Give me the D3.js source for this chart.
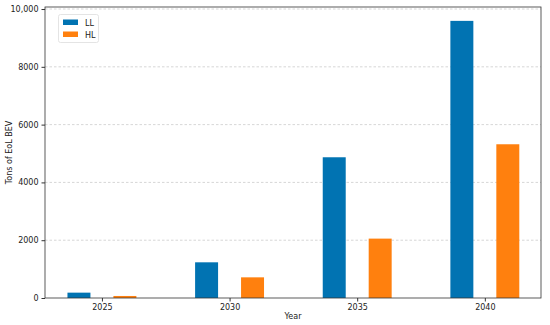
<!DOCTYPE html>
<html><head><meta charset="utf-8">
<script src="https://cdn.jsdelivr.net/npm/d3@7/dist/d3.min.js"></script>
<style>body{margin:0;background:#fff}svg{display:block;font-family:"DejaVu Sans",sans-serif}</style>
</head><body><svg id="c" width="550" height="325"></svg>
<script>
const years = [2025, 2030, 2035, 2040];
const seriesNames = ["LL", "HL"];
const llValues = [185, 1235, 4870, 9590];
const hlValues = [70, 715, 2055, 5320];
const yTicks = [0, 2000, 4000, 6000, 8000, 10000];
const colors = ["#0173b2", "#ff800e"];

const svg = d3.select("#c");
const L = 45, R = 541, T = 7, B = 298;
const x = d3.scaleLinear().domain([2022.77, 2042.2]).range([L, R]);
const y = d3.scaleLinear().domain([0, 10070]).range([B, T]);
const bw = 0.9, off = 0.9;

// grid
svg.append("g").selectAll("line").data(yTicks.slice(1)).join("line")
  .attr("x1", L).attr("x2", R).attr("y1", d => y(d)).attr("y2", d => y(d))
  .attr("stroke", "#cccccc").attr("stroke-width", 0.8).attr("stroke-dasharray", "2.5,2");

const series = [llValues, hlValues];
series.forEach((vals, si) => {
  svg.append("g").selectAll("rect").data(years.map((yr, i) => ({yr, v: vals[i]}))).join("rect")
    .attr("x", d => x(d.yr + (si === 0 ? -off : off) - bw / 2))
    .attr("width", d => x(d.yr + bw / 2) - x(d.yr - bw / 2))
    .attr("y", d => y(d.v)).attr("height", d => y(0) - y(d.v))
    .attr("fill", colors[si]);
});

// axes
const fmt = d => d >= 10000 ? d3.format(",")(d) : String(d);
const yAxis = svg.append("g").attr("transform", `translate(${L},0)`)
  .call(d3.axisLeft(y).tickValues(yTicks).tickFormat(fmt).tickSize(3.5).tickPadding(3));
const xAxis = svg.append("g").attr("transform", `translate(0,${B})`)
  .call(d3.axisBottom(x).tickValues(years).tickFormat(d3.format("d")).tickSize(3.5).tickPadding(3));
[yAxis, xAxis].forEach(a => {
  a.select(".domain").remove();
  a.selectAll("line").attr("stroke", "#333");
  a.selectAll("text").attr("font-size", 8).attr("fill", "#222").attr("font-family", "DejaVu Sans");
});
svg.append("rect").attr("x", L).attr("y", T).attr("width", R - L).attr("height", B - T)
  .attr("fill", "none").attr("stroke", "#333").attr("stroke-width", 0.8);

svg.append("text").attr("x", (L + R) / 2).attr("y", 319).attr("text-anchor", "middle")
  .attr("font-size", 8).attr("fill", "#222").text("Year");
svg.append("text").attr("transform", `translate(12,${(T + B) / 2}) rotate(-90)`).attr("text-anchor", "middle")
  .attr("font-size", 8).attr("fill", "#222").text("Tons of EoL BEV");

// legend
const lg = svg.append("g");
lg.append("rect").attr("x", 58.5).attr("y", 14.5).attr("width", 40).attr("height", 28).attr("rx", 2)
  .attr("fill", "#fff").attr("fill-opacity", 0.8).attr("stroke", "#dddddd").attr("stroke-width", 0.8);
seriesNames.forEach((n, i) => {
  lg.append("rect").attr("x", 63).attr("y", 19.5 + i * 12).attr("width", 15).attr("height", 5.5).attr("fill", colors[i]);
  lg.append("text").attr("x", 85).attr("y", 25.5 + i * 12).attr("font-size", 8).attr("fill", "#222").text(n);
});
</script></body></html>
